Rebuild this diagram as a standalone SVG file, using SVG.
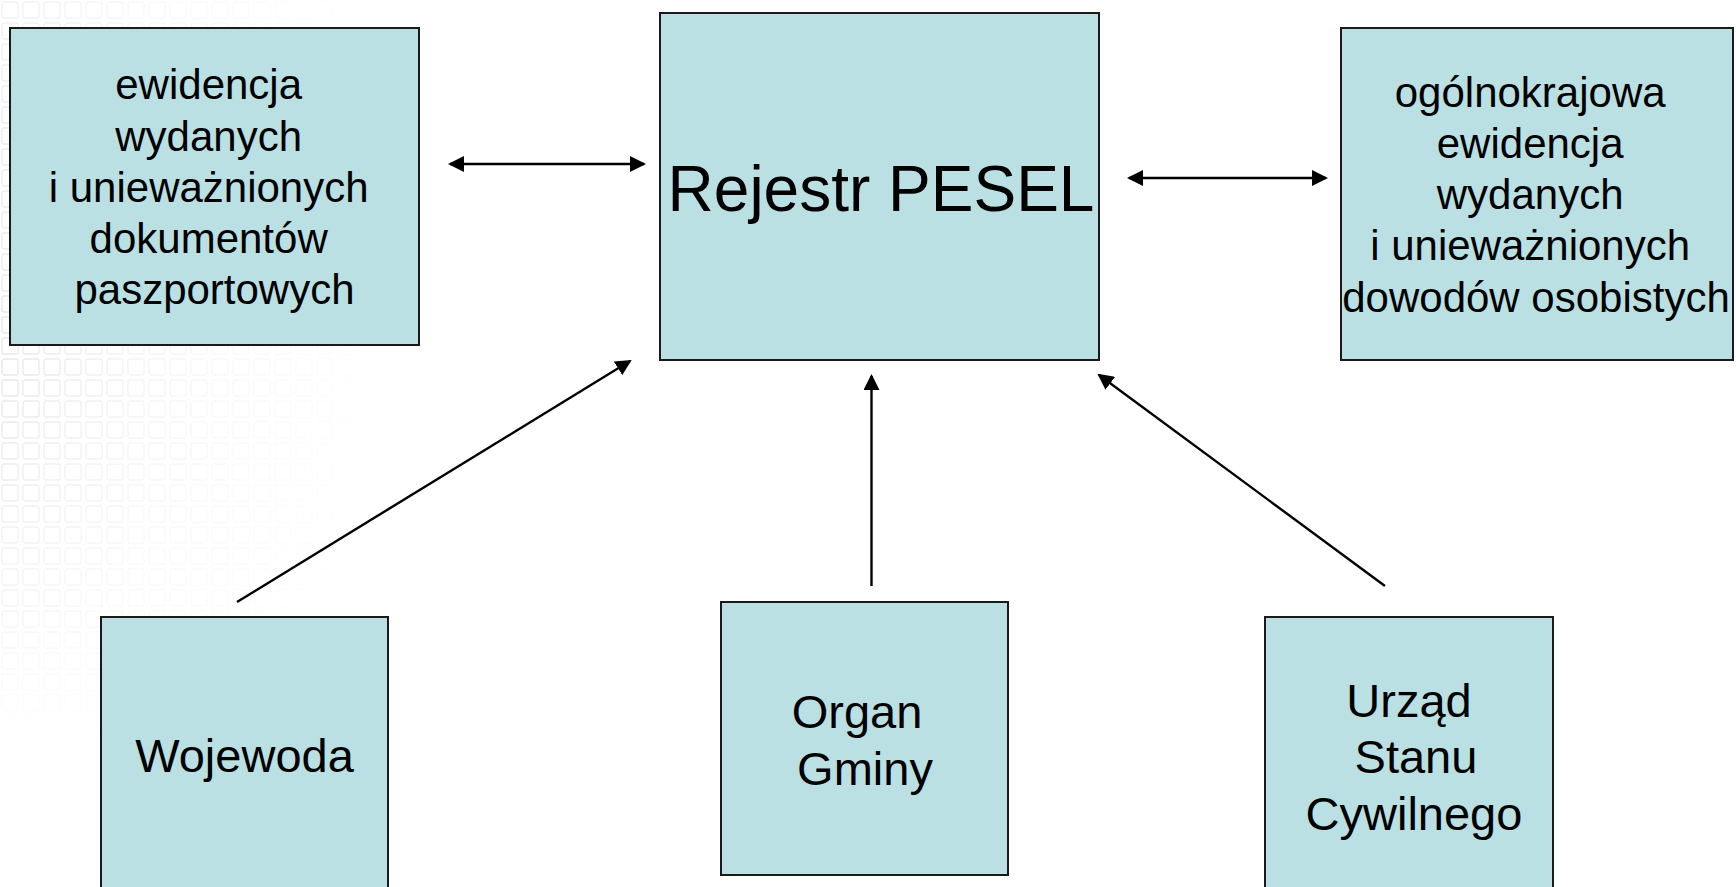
<svg xmlns="http://www.w3.org/2000/svg" width="1736" height="887" viewBox="0 0 1736 887">
  <style>
    .box { fill: #BAE0E3; stroke: #1a1a1a; stroke-width: 2; }
    .t { font-family: "Liberation Sans", Arial, sans-serif; fill: #000; text-anchor: middle; }
    .t42 { font-size: 42px; }
    .t47 { font-size: 47px; }
    .t64 { font-size: 64px; }
    .conn { stroke: #000; stroke-width: 2.4; fill: none; }
  </style>
  <defs>
    <marker id="ah" viewBox="0 0 16 16" refX="14" refY="8" markerWidth="16" markerHeight="16" markerUnits="userSpaceOnUse" orient="auto-start-reverse">
      <path d="M0,0 L16,8 L0,16 z" fill="#000"/>
    </marker>
    <pattern id="grid" x="0" y="0" width="21" height="21" patternUnits="userSpaceOnUse">
      <rect x="2" y="2" width="16" height="16" rx="2" fill="none" stroke="#d6d6d6" stroke-width="1.3"/>
    </pattern>
    <linearGradient id="fadeX" x1="0" y1="0" x2="1" y2="0">
      <stop offset="0" stop-color="#fff" stop-opacity="0.6"/>
      <stop offset="0.4" stop-color="#fff" stop-opacity="0.25"/>
      <stop offset="1" stop-color="#fff" stop-opacity="0"/>
    </linearGradient>
    <linearGradient id="fadeY" x1="0" y1="0" x2="0" y2="1">
      <stop offset="0" stop-color="#fff" stop-opacity="0.6"/>
      <stop offset="0.5" stop-color="#fff" stop-opacity="1"/>
      <stop offset="0.8" stop-color="#fff" stop-opacity="0.45"/>
      <stop offset="1" stop-color="#fff" stop-opacity="0"/>
    </linearGradient>
    <mask id="m1">
      <rect x="0" y="0" width="380" height="740" fill="url(#fadeX)"/>
    </mask>
    <mask id="m2">
      <rect x="0" y="0" width="380" height="740" fill="url(#fadeY)"/>
    </mask>
  </defs>

  <rect x="0" y="0" width="1736" height="887" fill="#ffffff"/>
  <g id="background" mask="url(#m2)">
    <rect x="0" y="0" width="380" height="740" fill="url(#grid)" mask="url(#m1)"/>
  </g>

  <g id="connectors">
    <line class="conn" x1="450" y1="164" x2="644" y2="164" marker-start="url(#ah)" marker-end="url(#ah)"/>
    <line class="conn" x1="1129" y1="178" x2="1326" y2="178" marker-start="url(#ah)" marker-end="url(#ah)"/>
    <line class="conn" x1="237" y1="602" x2="630" y2="361" marker-end="url(#ah)"/>
    <line class="conn" x1="871.5" y1="586" x2="871.5" y2="376" marker-end="url(#ah)"/>
    <line class="conn" x1="1385" y1="586" x2="1099" y2="375" marker-end="url(#ah)"/>
  </g>

  <g id="node-paszporty">
    <rect class="box" x="10" y="28" width="409" height="317"/>
    <text class="t t42" x="214.5" y="99">
      <tspan x="214.5" y="99">ewidencja</tspan>
      <tspan x="214.5" y="150.5">wydanych</tspan>
      <tspan x="214.5" y="201.5">i unieważnionych</tspan>
      <tspan x="214.5" y="252.5">dokumentów</tspan>
      <tspan x="214.5" y="304">paszportowych</tspan>
    </text>
  </g>

  <g id="node-pesel">
    <rect class="box" x="660" y="13" width="439" height="347"/>
    <text class="t t64" x="881" y="211">Rejestr PESEL</text>
  </g>

  <g id="node-dowody">
    <rect class="box" x="1341" y="28" width="392" height="332"/>
    <text class="t t42" x="1536" y="106.5">
      <tspan x="1536" y="106.5">ogólnokrajowa</tspan>
      <tspan x="1536" y="157.5">ewidencja</tspan>
      <tspan x="1536" y="208.5">wydanych</tspan>
      <tspan x="1536" y="260">i unieważnionych</tspan>
      <tspan x="1536" y="311.5">dowodów osobistych</tspan>
    </text>
  </g>

  <g id="node-wojewoda">
    <rect class="box" x="101" y="617" width="287" height="290"/>
    <text class="t t47" x="244.5" y="772">Wojewoda</text>
  </g>

  <g id="node-organ-gminy">
    <rect class="box" x="721" y="602" width="287" height="273"/>
    <text class="t t47" x="857" y="728">Organ</text>
    <text class="t t47" x="865" y="785">Gminy</text>
  </g>

  <g id="node-usc">
    <rect class="box" x="1265" y="617" width="288" height="290"/>
    <text class="t t47" x="1409" y="717">Urząd</text>
    <text class="t t47" x="1416" y="773">Stanu</text>
    <text class="t t47" x="1414" y="830">Cywilnego</text>
  </g>
</svg>
